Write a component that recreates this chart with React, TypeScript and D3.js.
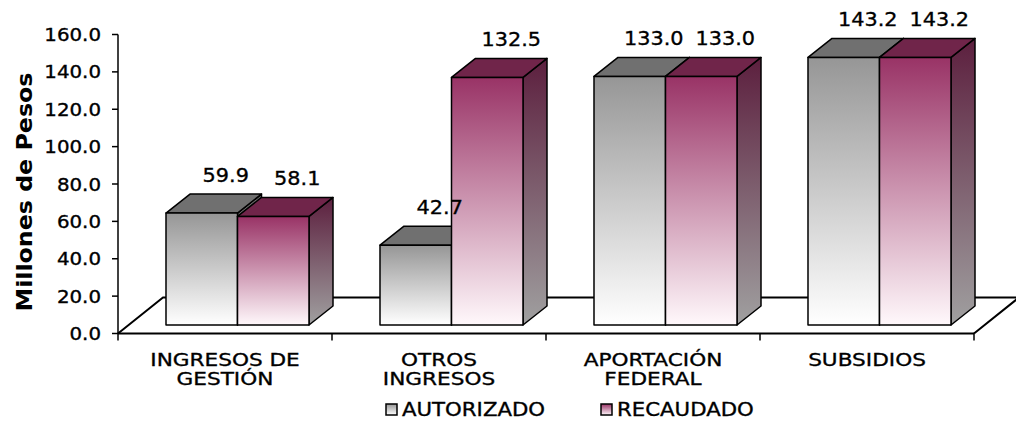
import React from "react";
import * as d3 from "d3";

const categories = ["INGRESOS DE GESTIÓN", "OTROS INGRESOS", "APORTACIÓN FEDERAL", "SUBSIDIOS"];
const categoryLines = [["INGRESOS DE", "GESTIÓN"], ["OTROS", "INGRESOS"], ["APORTACIÓN", "FEDERAL"], ["SUBSIDIOS"]];
const seriesNames = ["AUTORIZADO", "RECAUDADO"];
const autorizado = [59.9, 42.7, 133.0, 143.2];
const recaudado = [58.1, 132.5, 133.0, 143.2];
const yTicks = [0, 20, 40, 60, 80, 100, 120, 140, 160];
const yTitle = "Millones de Pesos";

const W = 1016;
const H = 422;
const FONT = "'DejaVu Sans', Verdana, sans-serif";
const TXT = { fill: "#000", stroke: "#000", strokeWidth: 0.35, fontFamily: FONT } as const;

export default function App() {
  const y = d3.scaleLinear().domain([0, 160]).range([333.5, 34.5]);
  const x = d3.scaleBand<string>().domain(categories).range([118, 974]).padding(0);
  const inner = d3
    .scaleBand<string>()
    .domain(seriesNames)
    .range([0, x.bandwidth()])
    .paddingInner(0)
    .paddingOuter(0.4965);

  // depth parameters
  const fdx = 45, fdy = -36; // floor depth
  const bOffX = 12.5, bOffY = -8.5; // bar offset into floor
  const bdx = 24, bdy = -19; // bar depth
  const bw = inner.bandwidth();

  const seriesValues = [autorizado, recaudado];
  const frontFill = ["url(#gA)", "url(#gR)"];
  const topFill = ["#707070", "#70254a"];
  const sideFill = ["url(#sA)", "url(#sR)"];

  const y0 = y(0);
  const xLeft = x.range()[0];
  const xRight = x.range()[1];
  const boundaries = [...categories.map((c) => x(c) as number), xRight];

  const bars: React.ReactNode[] = [];
  const labels: React.ReactNode[] = [];
  categories.forEach((c, ci) => {
    seriesNames.forEach((s, si) => {
      const v = seriesValues[si][ci];
      const bx = (x(c) as number) + (inner(s) as number) + bOffX;
      const yt = y(v) + bOffY;
      const yb = y0 + bOffY;
      const top = `M${bx},${yt}L${bx + bdx},${yt + bdy}L${bx + bw + bdx},${yt + bdy}L${bx + bw},${yt}Z`;
      const side = `M${bx + bw},${yt}L${bx + bw + bdx},${yt + bdy}L${bx + bw + bdx},${yb + bdy}L${bx + bw},${yb}Z`;
      bars.push(
        <g key={`${ci}-${si}`} stroke="#000" strokeWidth={1.5} strokeLinejoin="round">
          <path d={side} fill={sideFill[si]} />
          <path d={top} fill={topFill[si]} />
          <rect x={bx} y={yt} width={bw} height={yb - yt} fill={frontFill[si]} />
        </g>
      );
      labels.push(
        <text
          key={`l${ci}-${si}`}
          transform={`translate(${bx + bw / 2 + bdx},${yt + bdy - 12}) scale(1.04,1)`}
          textAnchor="middle"
          fontSize={20}
          {...TXT}
        >
          {v.toFixed(1)}
        </text>
      );
    });
  });

  return (
    <svg
      width={W}
      height={H}
      style={{ position: "absolute", left: 0, top: 0, background: "#fff" }}
    >
      <defs>
        <linearGradient id="gA" x1="0" y1="0" x2="0" y2="1">
          <stop offset="0" stopColor="#969696" />
          <stop offset="1" stopColor="#ffffff" />
        </linearGradient>
        <linearGradient id="gR" x1="0" y1="0" x2="0" y2="1">
          <stop offset="0" stopColor="#993366" />
          <stop offset="1" stopColor="#fff8fb" />
        </linearGradient>
        <linearGradient id="sA" x1="0" y1="0" x2="0" y2="1">
          <stop offset="0" stopColor="#6a6a6a" />
          <stop offset="1" stopColor="#a0a0a0" />
        </linearGradient>
        <linearGradient id="sR" x1="0" y1="0" x2="0" y2="1">
          <stop offset="0" stopColor="#5c1f3e" />
          <stop offset="1" stopColor="#a0a0a0" />
        </linearGradient>
      </defs>

      {/* floor */}
      <path
        d={`M${xLeft},${y0}L${xLeft + fdx},${y0 + fdy}L${xRight + fdx},${y0 + fdy}L${xRight},${y0}`}
        fill="none"
        stroke="#000"
        strokeWidth={2}
      />
      <line x1={xLeft} x2={xRight} y1={y0} y2={y0} stroke="#000" strokeWidth={2} />
      {boundaries.map((b, i) => (
        <line key={i} x1={b} x2={b} y1={y0} y2={y0 + 7} stroke="#000" strokeWidth={1.5} />
      ))}

      {/* value axis */}
      <line x1={xLeft} x2={xLeft} y1={y(160)} y2={y0} stroke="#000" strokeWidth={1.5} />
      {yTicks.map((t) => (
        <g key={t}>
          <line x1={xLeft - 6} x2={xLeft} y1={y(t)} y2={y(t)} stroke="#000" strokeWidth={1.5} />
          <text
            transform={`translate(${xLeft - 17},${y(t) + 6.5}) scale(1.1,1)`}
            textAnchor="end"
            fontSize={18}
            {...TXT}
          >
            {t.toFixed(1)}
          </text>
        </g>
      ))}
      <text
        transform={`translate(32,${(y(160) + y0) / 2 + 8}) rotate(-90) scale(1.13,1)`}
        textAnchor="middle"
        fontSize={21}
        fontWeight="bold"
        fontFamily={FONT}
        fill="#000"
      >
        {yTitle}
      </text>

      {bars}
      {labels}

      {/* category labels */}
      {categories.map((c, ci) =>
        categoryLines[ci].map((line, li) => (
          <text
            key={`${ci}-${li}`}
            transform={`translate(${(x(c) as number) + x.bandwidth() / 2},${366 + li * 19}) scale(1.2,1)`}
            textAnchor="middle"
            fontSize={18}
            {...TXT}
          >
            {line}
          </text>
        ))
      )}

      {/* legend */}
      {seriesNames.map((s, si) => {
        const lx = [386, 601][si];
        return (
          <g key={s}>
            <rect x={lx} y={404} width={11} height={11} fill={frontFill[si]} stroke="#000" strokeWidth={1.5} />
            <text
              transform={`translate(${lx + 16},416) scale(1.12,1)`}
              fontSize={19}
              {...TXT}
            >
              {s}
            </text>
          </g>
        );
      })}
    </svg>
  );
}
